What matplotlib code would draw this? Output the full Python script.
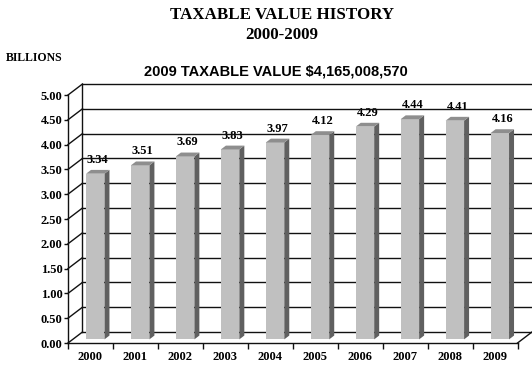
import numpy as np
import matplotlib.pyplot as plt
from matplotlib.patches import Polygon

years = ['2000', '2001', '2002', '2003', '2004', '2005', '2006', '2007', '2008', '2009']
values = [3.34, 3.51, 3.69, 3.83, 3.97, 4.12, 4.29, 4.44, 4.41, 4.16]
yticks = np.arange(0, 5.01, 0.5)

serif = 'Liberation Serif'
sans = 'Liberation Sans'

# depth of the 3d box in data units (x: categories, y: billions)
DX, DY = 0.322, 0.222
# bar depth placement as fraction of the box depth
D0, DD = 0.33, 0.345
BW = 0.41

fig = plt.figure(figsize=(5.32, 3.67), dpi=100)
W, H = 532, 367
ax = fig.add_axes([68 / W, 24 / H, 464 / W, 259 / H])
ax.set_xlim(0, 10 + DX)
ax.set_ylim(0, 5 + DY)
ax.set_facecolor('none')

n = len(values)
line_kw = dict(color='#111111', lw=1.0, clip_on=False, zorder=1)

# back wall gridlines
for t in yticks:
    ax.plot([DX, n + DX], [t + DY, t + DY], **line_kw)
# left wall
ax.plot([DX, DX], [DY, 5 + DY], **line_kw)
for t in yticks:
    ax.plot([0, DX], [t, t + DY], **line_kw)
# floor right edge
ax.plot([n, n + DX], [0, DY], **line_kw)

# bars
for i, v in enumerate(values):
    x0 = i + 0.5 - BW / 2 + D0 * DX
    x1 = x0 + BW
    yb = D0 * DY
    yt = v + yb
    ddx, ddy = DD * DX, DD * DY
    ax.add_patch(Polygon([(x0, yb), (x1, yb), (x1, yt), (x0, yt)], closed=True,
                         facecolor='#c0c0c0', edgecolor='none', zorder=3))
    ax.add_patch(Polygon([(x1, yb), (x1 + ddx, yb + ddy), (x1 + ddx, yt + ddy), (x1, yt)],
                         closed=True, facecolor='#606060', edgecolor='none', zorder=3))
    ax.add_patch(Polygon([(x0, yt), (x1, yt), (x1 + ddx, yt + ddy), (x0 + ddx, yt + ddy)],
                         closed=True, facecolor='#8e8e8e', edgecolor='none', zorder=3))
    ax.text((x0 + x1) / 2 + ddx / 2, yt + 0.28, f'{v:.2f}', ha='center', va='center',
            fontsize=9, fontweight='bold', family=serif, zorder=0)

# front axes
for s in ['top', 'right']:
    ax.spines[s].set_visible(False)
ax.spines['left'].set_bounds(0, 5)
ax.spines['bottom'].set_bounds(0, n)
for s in ['left', 'bottom']:
    ax.spines[s].set_linewidth(1.0)
    ax.spines[s].set_color('#111111')
ax.set_yticks(yticks)
ax.set_yticklabels([f'{t:.2f}' for t in yticks], fontsize=9, fontweight='bold', family=serif)
ax.set_xticks(np.arange(0, n + 1))
ax.set_xticklabels([])
ax.set_xticks(np.arange(n) + 0.5, minor=True)
ax.set_xticklabels(years, minor=True, fontsize=9, fontweight='bold', family=serif)
ax.tick_params(axis='x', which='major', direction='out', length=4, width=1.0, color='#111111')
ax.tick_params(axis='x', which='minor', length=0, pad=6)
ax.tick_params(axis='y', direction='out', length=3, width=1.0, color='#111111', pad=1)

fig.text(282 / W, 1 - 15 / H, 'TAXABLE VALUE HISTORY', ha='center', va='center',
         fontsize=12.2, fontweight='bold', family=serif)
fig.text(282 / W, 1 - 35 / H, '2000-2009', ha='center', va='center',
         fontsize=12.2, fontweight='bold', family=serif)
fig.text(6 / W, 1 - 58 / H, 'BILLIONS', ha='left', va='center',
         fontsize=8.5, fontweight='bold', family=serif)
fig.text(276 / W, 1 - 71 / H, '2009 TAXABLE VALUE $4,165,008,570', ha='center', va='center',
         fontsize=10.5, fontweight='bold', family=sans)

fig.savefig('out.png', dpi=100)
